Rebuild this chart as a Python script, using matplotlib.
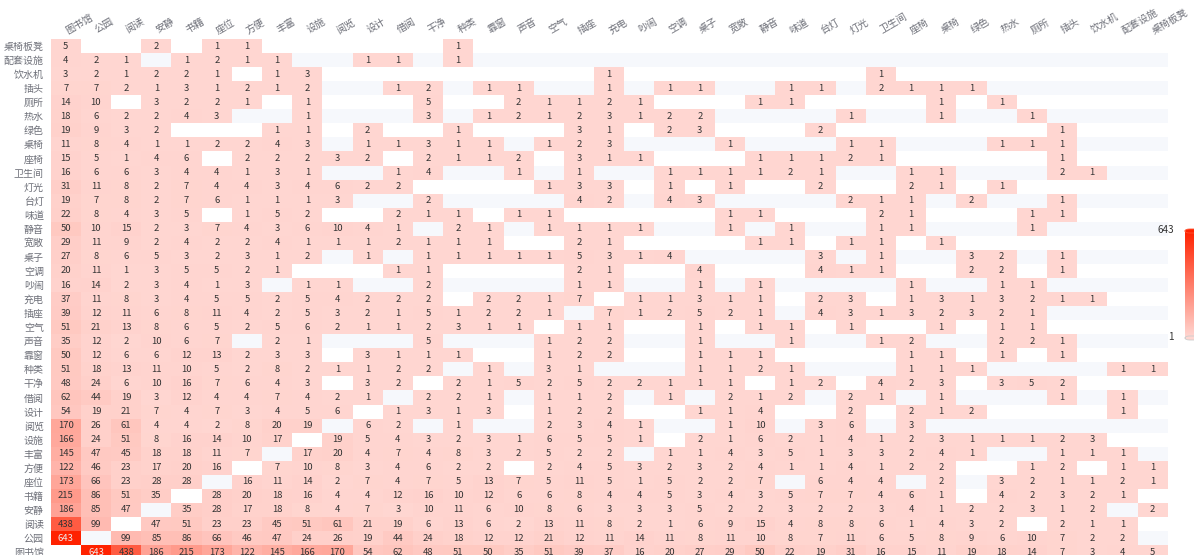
import numpy as np
import matplotlib
matplotlib.use("Agg")
import matplotlib.pyplot as plt
from matplotlib.colors import LinearSegmentedColormap, Normalize, to_rgb
from matplotlib.patches import Rectangle, FancyBboxPatch
from matplotlib import transforms

plt.rcParams['font.family'] = ['Noto Sans CJK SC', 'DejaVu Sans']

categories = ['图书馆', '公园', '阅读', '安静', '书籍', '座位', '方便', '丰富', '设施', '阅览',
              '设计', '借阅', '干净', '种类', '靠窗', '声音', '空气', '插座', '充电', '吵闹',
              '空调', '桌子', '宽敞', '静音', '味道', '台灯', '灯光', '卫生间', '座椅', '桌椅',
              '绿色', '热水', '厕所', '插头', '饮水机', '配套设施', '桌椅板凳']

# co-occurrence counts, one row per category (same order as columns); 0 = no data
co_counts = [
    [0, 643, 438, 186, 215, 173, 122, 145, 166, 170, 54, 62, 48, 51, 50, 35, 51, 39, 37, 16, 20, 27, 29, 50, 22, 19, 31, 16, 15, 11, 19, 18, 14, 7, 3, 4, 5],
    [643, 0, 99, 85, 86, 66, 46, 47, 24, 26, 19, 44, 24, 18, 12, 12, 21, 12, 11, 14, 11, 8, 11, 10, 8, 7, 11, 6, 5, 8, 9, 6, 10, 7, 2, 2, 0],
    [438, 99, 0, 47, 51, 23, 23, 45, 51, 61, 21, 19, 6, 13, 6, 2, 13, 11, 8, 2, 1, 6, 9, 15, 4, 8, 8, 6, 1, 4, 3, 2, 0, 2, 1, 1, 0],
    [186, 85, 47, 0, 35, 28, 17, 18, 8, 4, 7, 3, 10, 11, 6, 10, 8, 6, 3, 3, 3, 5, 2, 2, 3, 2, 2, 3, 4, 1, 2, 2, 3, 1, 2, 0, 2],
    [215, 86, 51, 35, 0, 28, 20, 18, 16, 4, 4, 12, 16, 10, 12, 6, 6, 8, 4, 4, 5, 3, 4, 3, 5, 7, 7, 4, 6, 1, 0, 4, 2, 3, 2, 1, 0],
    [173, 66, 23, 28, 28, 0, 16, 11, 14, 2, 7, 4, 7, 5, 13, 7, 5, 11, 5, 1, 5, 2, 2, 7, 0, 6, 4, 4, 0, 2, 0, 3, 2, 1, 1, 2, 1],
    [122, 46, 23, 17, 20, 16, 0, 7, 10, 8, 3, 4, 6, 2, 2, 0, 2, 4, 5, 3, 2, 3, 2, 4, 1, 1, 4, 1, 2, 2, 0, 0, 1, 2, 0, 1, 1],
    [145, 47, 45, 18, 18, 11, 7, 0, 17, 20, 4, 7, 4, 8, 3, 2, 5, 2, 2, 0, 1, 1, 4, 3, 5, 1, 3, 3, 2, 4, 1, 0, 0, 1, 1, 1, 0],
    [166, 24, 51, 8, 16, 14, 10, 17, 0, 19, 5, 4, 3, 2, 3, 1, 6, 5, 5, 1, 0, 2, 1, 6, 2, 1, 4, 1, 2, 3, 1, 1, 1, 2, 3, 0, 0],
    [170, 26, 61, 4, 4, 2, 8, 20, 19, 0, 6, 2, 0, 1, 0, 0, 2, 3, 4, 1, 0, 0, 1, 10, 0, 3, 6, 0, 3, 0, 0, 0, 0, 0, 0, 0, 0],
    [54, 19, 21, 7, 4, 7, 3, 4, 5, 6, 0, 1, 3, 1, 3, 0, 1, 2, 2, 0, 0, 1, 1, 4, 0, 0, 2, 0, 2, 1, 2, 0, 0, 0, 0, 1, 0],
    [62, 44, 19, 3, 12, 4, 4, 7, 4, 2, 1, 0, 2, 2, 1, 0, 1, 1, 2, 0, 1, 0, 2, 1, 2, 0, 2, 1, 0, 1, 0, 0, 0, 1, 0, 1, 0],
    [48, 24, 6, 10, 16, 7, 6, 4, 3, 0, 3, 2, 0, 2, 1, 5, 2, 5, 2, 2, 1, 1, 1, 0, 1, 2, 0, 4, 2, 3, 0, 3, 5, 2, 0, 0, 0],
    [51, 18, 13, 11, 10, 5, 2, 8, 2, 1, 1, 2, 2, 0, 1, 0, 3, 1, 0, 0, 0, 1, 1, 2, 1, 0, 0, 0, 1, 1, 1, 0, 0, 0, 0, 1, 1],
    [50, 12, 6, 6, 12, 13, 2, 3, 3, 0, 3, 1, 1, 1, 0, 0, 1, 2, 2, 0, 0, 1, 1, 1, 0, 0, 0, 0, 1, 1, 0, 1, 0, 1, 0, 0, 0],
    [35, 12, 2, 10, 6, 7, 0, 2, 1, 0, 0, 0, 5, 0, 0, 0, 1, 2, 2, 0, 0, 1, 0, 0, 1, 0, 0, 1, 2, 0, 0, 2, 2, 1, 0, 0, 0],
    [51, 21, 13, 8, 6, 5, 2, 5, 6, 2, 1, 1, 2, 3, 1, 1, 0, 1, 1, 0, 0, 1, 0, 1, 1, 0, 1, 0, 0, 1, 0, 1, 1, 0, 0, 0, 0],
    [39, 12, 11, 6, 8, 11, 4, 2, 5, 3, 2, 1, 5, 1, 2, 2, 1, 0, 7, 1, 2, 5, 2, 1, 0, 4, 3, 1, 3, 2, 3, 2, 1, 0, 0, 0, 0],
    [37, 11, 8, 3, 4, 5, 5, 2, 5, 4, 2, 2, 2, 0, 2, 2, 1, 7, 0, 1, 1, 3, 1, 1, 0, 2, 3, 0, 1, 3, 1, 3, 2, 1, 1, 0, 0],
    [16, 14, 2, 3, 4, 1, 3, 0, 1, 1, 0, 0, 2, 0, 0, 0, 0, 1, 1, 0, 0, 1, 0, 1, 0, 0, 0, 0, 1, 0, 0, 1, 1, 0, 0, 0, 0],
    [20, 11, 1, 3, 5, 5, 2, 1, 0, 0, 0, 1, 1, 0, 0, 0, 0, 2, 1, 0, 0, 4, 0, 0, 0, 4, 1, 1, 0, 0, 2, 2, 0, 1, 0, 0, 0],
    [27, 8, 6, 5, 3, 2, 3, 1, 2, 0, 1, 0, 1, 1, 1, 1, 1, 5, 3, 1, 4, 0, 0, 0, 0, 3, 0, 1, 0, 0, 3, 2, 0, 1, 0, 0, 0],
    [29, 11, 9, 2, 4, 2, 2, 4, 1, 1, 1, 2, 1, 1, 1, 0, 0, 2, 1, 0, 0, 0, 0, 1, 1, 0, 1, 1, 0, 1, 0, 0, 0, 0, 0, 0, 0],
    [50, 10, 15, 2, 3, 7, 4, 3, 6, 10, 4, 1, 0, 2, 1, 0, 1, 1, 1, 1, 0, 0, 1, 0, 1, 0, 0, 1, 1, 0, 0, 0, 1, 0, 0, 0, 0],
    [22, 8, 4, 3, 5, 0, 1, 5, 2, 0, 0, 2, 1, 1, 0, 1, 1, 0, 0, 0, 0, 0, 1, 1, 0, 0, 0, 2, 1, 0, 0, 0, 1, 1, 0, 0, 0],
    [19, 7, 8, 2, 7, 6, 1, 1, 1, 3, 0, 0, 2, 0, 0, 0, 0, 4, 2, 0, 4, 3, 0, 0, 0, 0, 2, 1, 1, 0, 2, 0, 0, 1, 0, 0, 0],
    [31, 11, 8, 2, 7, 4, 4, 3, 4, 6, 2, 2, 0, 0, 0, 0, 1, 3, 3, 0, 1, 0, 1, 0, 0, 2, 0, 0, 2, 1, 0, 1, 0, 0, 0, 0, 0],
    [16, 6, 6, 3, 4, 4, 1, 3, 1, 0, 0, 1, 4, 0, 0, 1, 0, 1, 0, 0, 1, 1, 1, 1, 2, 1, 0, 0, 1, 1, 0, 0, 0, 2, 1, 0, 0],
    [15, 5, 1, 4, 6, 0, 2, 2, 2, 3, 2, 0, 2, 1, 1, 2, 0, 3, 1, 1, 0, 0, 0, 1, 1, 1, 2, 1, 0, 0, 0, 0, 0, 1, 0, 0, 0],
    [11, 8, 4, 1, 1, 2, 2, 4, 3, 0, 1, 1, 3, 1, 1, 0, 1, 2, 3, 0, 0, 0, 1, 0, 0, 0, 1, 1, 0, 0, 0, 1, 1, 1, 0, 0, 0],
    [19, 9, 3, 2, 0, 0, 0, 1, 1, 0, 2, 0, 0, 1, 0, 0, 0, 3, 1, 0, 2, 3, 0, 0, 0, 2, 0, 0, 0, 0, 0, 0, 0, 1, 0, 0, 0],
    [18, 6, 2, 2, 4, 3, 0, 0, 1, 0, 0, 0, 3, 0, 1, 2, 1, 2, 3, 1, 2, 2, 0, 0, 0, 0, 1, 0, 0, 1, 0, 0, 1, 0, 0, 0, 0],
    [14, 10, 0, 3, 2, 2, 1, 0, 1, 0, 0, 0, 5, 0, 0, 2, 1, 1, 2, 1, 0, 0, 0, 1, 1, 0, 0, 0, 0, 1, 0, 1, 0, 0, 0, 0, 0],
    [7, 7, 2, 1, 3, 1, 2, 1, 2, 0, 0, 1, 2, 0, 1, 1, 0, 0, 1, 0, 1, 1, 0, 0, 1, 1, 0, 2, 1, 1, 1, 0, 0, 0, 0, 0, 0],
    [3, 2, 1, 2, 2, 1, 0, 1, 3, 0, 0, 0, 0, 0, 0, 0, 0, 0, 1, 0, 0, 0, 0, 0, 0, 0, 0, 1, 0, 0, 0, 0, 0, 0, 0, 0, 0],
    [4, 2, 1, 0, 1, 2, 1, 1, 0, 0, 1, 1, 0, 1, 0, 0, 0, 0, 0, 0, 0, 0, 0, 0, 0, 0, 0, 0, 0, 0, 0, 0, 0, 0, 0, 0, 0],
    [5, 0, 0, 2, 0, 1, 1, 0, 0, 0, 0, 0, 0, 1, 0, 0, 0, 0, 0, 0, 0, 0, 0, 0, 0, 0, 0, 0, 0, 0, 0, 0, 0, 0, 0, 0, 0],
]

vmin, vmax = 1, 643
color_low, color_high = '#ffd6d1', '#ff2200'

W, H = 1194, 555
fig = plt.figure(figsize=(W / 100, H / 100), dpi=100)
fig.patch.set_facecolor('white')

left_px, right_px = 50.7, 1167.7
top_px, bottom_px = 39.0, 559.2
ax = fig.add_axes([left_px / W, 1 - bottom_px / H, (right_px - left_px) / W, (bottom_px - top_px) / H])

n = len(categories)
M = np.array(co_counts, dtype=float)
masked = np.ma.masked_where(M <= 0, M)

cmap = LinearSegmentedColormap.from_list('redmap', [color_low, color_high])
norm = Normalize(vmin=vmin, vmax=vmax)

# striped background (split areas)
for i in range(n):
    ax.add_patch(Rectangle((-0.5, i - 0.5), n, 1, facecolor='#ffffff' if i % 2 == 0 else '#f6f8fc',
                           edgecolor='none', zorder=0))

edges = np.arange(n + 1) - 0.5
ax.pcolormesh(edges, edges, masked, cmap=cmap, norm=norm, zorder=1, edgecolors='none')

for i in range(n):
    for j in range(n):
        v = co_counts[i][j]
        if v > 0:
            r, g, b = cmap(norm(v))[:3]
            lum = 0.299 * r + 0.587 * g + 0.114 * b
            tc = '#333333' if lum > 0.5 else ('#eeeeee' if lum > 0.2 else '#ffffff')
            ax.text(j, i, str(v), ha='center', va='center', fontsize=6.8, color=tc, zorder=3)

ax.set_xlim(-0.5, n - 0.5)
ax.set_ylim(-0.5, n - 0.5)
for s in ax.spines.values():
    s.set_visible(False)
ax.set_xticks([])
ax.set_yticks(range(n))
ax.set_yticklabels(categories, fontsize=7.2, color='#6E7079')
ax.tick_params(axis='y', length=0, pad=5)

# top category labels, rotated
tr = transforms.offset_copy(ax.get_xaxis_transform(), fig=fig, x=0, y=8, units='dots')
for j, name in enumerate(categories):
    ax.text(j, 1.0, name, transform=tr, rotation=30, rotation_mode='anchor',
            ha='left', va='center', fontsize=7.2, color='#6E7079', clip_on=False)

# continuous visual map (partially cut at right edge)
bar_x0, bar_x1 = 1185, 1205
bar_top, bar_bot = 231, 337
cax = fig.add_axes([bar_x0 / W, 1 - bar_bot / H, (bar_x1 - bar_x0) / W, (bar_bot - bar_top) / H])
grad = np.linspace(vmin, vmax, 256).reshape(-1, 1)
cax.imshow(grad, aspect='auto', cmap=cmap, norm=norm, origin='lower', extent=[0, 1, 0, 1])
cax.set_axis_off()
# handles
fig.patches.append(FancyBboxPatch((bar_x0 / W, 1 - 233 / H), 20 / W, 4 / H,
                                  boxstyle='round,pad=0,rounding_size=0.004',
                                  transform=fig.transFigure, facecolor=color_high,
                                  edgecolor='#ff5533', lw=0.6))
fig.patches.append(FancyBboxPatch((bar_x0 / W, 1 - 340 / H), 20 / W, 4 / H,
                                  boxstyle='round,pad=0,rounding_size=0.004',
                                  transform=fig.transFigure, facecolor=color_low,
                                  edgecolor='#cccccc', lw=0.6))
fig.text(1174 / W, 1 - 230 / H, str(vmax), ha='right', va='center', fontsize=7.2, color='#333333')
fig.text(1174 / W, 1 - 337 / H, str(vmin), ha='right', va='center', fontsize=7.2, color='#333333')

fig.savefig('out.png', dpi=100)
